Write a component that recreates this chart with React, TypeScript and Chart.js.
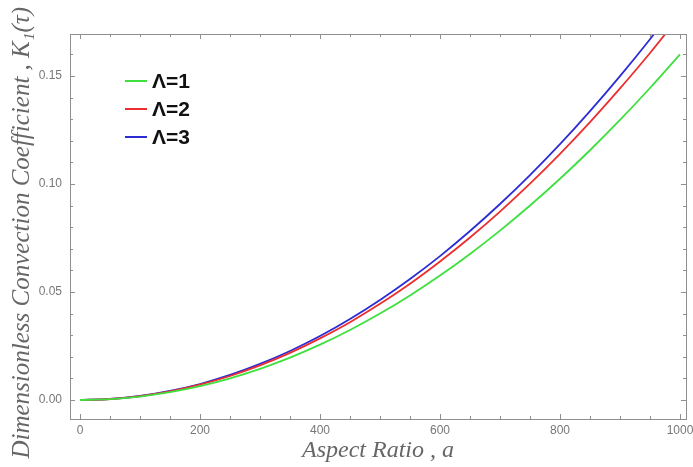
import { useEffect, useRef } from "react";
import { Chart, registerables } from "chart.js";

Chart.register(...registerables);

const aspectRatio = [0, 50, 100, 150, 200, 250, 300, 350, 400, 450, 500, 550, 600, 650, 700, 750, 800, 850, 900, 950, 1000];
const lambda1 = [0, 0.0004, 0.0016, 0.0036, 0.0064, 0.01, 0.0144, 0.0196, 0.0256, 0.0324, 0.04, 0.0484, 0.0576, 0.0676, 0.0784, 0.09, 0.1024, 0.1156, 0.1296, 0.1444, 0.16];
const lambda2 = [0, 0.00045, 0.0018, 0.004, 0.0071, 0.0111, 0.016, 0.0218, 0.0285, 0.036, 0.0445, 0.0538, 0.0641, 0.0752, 0.0872, 0.1001, 0.1139, 0.1286, 0.1442, 0.1606, 0.178];
const lambda3 = [0, 0.00046, 0.00185, 0.0042, 0.0074, 0.0116, 0.0167, 0.0227, 0.0296, 0.0375, 0.0463, 0.056, 0.0666, 0.0782, 0.0907, 0.1041, 0.1184, 0.1337, 0.1499, 0.167, 0.185];
const seriesLabels = ["Λ=1", "Λ=2", "Λ=3"];
const seriesColors = ["#3ee03e", "#ec2e2e", "#2c2cd6"];
const xTickValues = [0, 200, 400, 600, 800, 1000];
const yTickValues = [0, 0.05, 0.1, 0.15];
const xTitle = "Aspect Ratio , a";
const yTitle = "Dimensionless Convection Coefficient , K\u2081(\u03c4)  ";

const frameColor = "#8f8f8f";

const framePlugin = {
  id: "frameTicksLegend",
  afterDraw(chart: any) {
    const { ctx, chartArea } = chart;
    const { left, right, top, bottom } = chartArea;
    const xs = chart.scales.x;
    const ys = chart.scales.y;
    ctx.save();
    ctx.strokeStyle = frameColor;
    ctx.lineWidth = 1;
    ctx.strokeRect(Math.round(left) + 0.5, Math.round(top) + 0.5, Math.round(right - left), Math.round(bottom - top));
    for (let v = 0; v <= 1000; v += 50) {
      const px = Math.round(xs.getPixelForValue(v)) + 0.5;
      const len = v % 200 === 0 ? 5 : 3;
      ctx.beginPath();
      ctx.moveTo(px, bottom);
      ctx.lineTo(px, bottom - len);
      ctx.moveTo(px, top);
      ctx.lineTo(px, top + len);
      ctx.stroke();
    }
    for (let i = 0; i <= 17; i++) {
      const v = i * 0.01;
      const py = Math.round(ys.getPixelForValue(v)) + 0.5;
      if (py < top || py > bottom) continue;
      const len = i % 5 === 0 ? 5 : 3;
      ctx.beginPath();
      ctx.moveTo(left, py);
      ctx.lineTo(left + len, py);
      ctx.moveTo(right, py);
      ctx.lineTo(right - len, py);
      ctx.stroke();
    }
    const lx = 125;
    const ly = 81;
    const gap = 28;
    chart.data.datasets.forEach((ds: any, i: number) => {
      const y = ly + i * gap;
      ctx.strokeStyle = ds.borderColor;
      ctx.lineWidth = 2;
      ctx.beginPath();
      ctx.moveTo(lx, y);
      ctx.lineTo(lx + 22, y);
      ctx.stroke();
      ctx.fillStyle = "#111";
      ctx.font = "bold 21px 'Liberation Sans', Arial, sans-serif";
      ctx.textBaseline = "middle";
      ctx.textAlign = "left";
      ctx.fillText(ds.label, lx + 27, y + 1);
    });
    ctx.restore();
  },
};

export default function App() {
  const ref = useRef<HTMLCanvasElement | null>(null);
  useEffect(() => {
    document.body.style.margin = "0";
    const canvas = ref.current!;
    const datasets = [lambda1, lambda2, lambda3].map((d, i) => ({
      label: seriesLabels[i],
      data: aspectRatio.map((x, j) => ({ x, y: d[j] })),
      borderColor: seriesColors[i],
      backgroundColor: seriesColors[i],
      borderWidth: 1.8,
      pointRadius: 0,
      cubicInterpolationMode: "monotone" as const,
      fill: false,
    }));
    const chart = new Chart(canvas, {
      type: "line",
      data: { datasets },
      options: {
        animation: false,
        responsive: false,
        maintainAspectRatio: false,
        layout: { padding: { top: 34, right: 7, left: 0, bottom: 0 } },
        plugins: { legend: { display: false }, tooltip: { enabled: false } },
        scales: {
          x: {
            type: "linear",
            min: -16.7,
            max: 1010,
            afterBuildTicks: (s: any) => {
              s.ticks = xTickValues.map((value) => ({ value }));
            },
            afterFit: (s: any) => {
              s.height = 48;
              s.paddingRight = 0;
              s.paddingLeft = 0;
            },
            grid: { display: false, drawTicks: false },
            border: { display: false },
            ticks: {
              padding: 4,
              color: "#777",
              font: { family: "'Liberation Sans', Arial, sans-serif", size: 12 },
              callback: (v: any) => String(v),
              maxRotation: 0,
            },
            title: {
              display: true,
              text: xTitle,
              color: "#666",
              font: { family: "'Liberation Serif', 'DejaVu Serif', serif", size: 24, style: "italic", lineHeight: 1.2 },
              padding: { top: 0, bottom: 2 },
            },
          },
          y: {
            type: "linear",
            min: -0.0088,
            max: 0.1694,
            afterBuildTicks: (s: any) => {
              s.ticks = yTickValues.map((value) => ({ value }));
            },
            afterFit: (s: any) => {
              s.width = 70;
            },
            grid: { display: false, drawTicks: false },
            border: { display: false },
            ticks: {
              padding: 8,
              color: "#777",
              font: { family: "'Liberation Sans', Arial, sans-serif", size: 12 },
              callback: (v: any) => Number(v).toFixed(2),
            },
            title: {
              display: true,
              text: yTitle,
              color: "#666",
              font: { family: "'Liberation Serif', 'DejaVu Serif', serif", size: 25, style: "italic", lineHeight: 1.2 },
              padding: { top: 7, bottom: 0 },
            },
          },
        },
      },
      plugins: [framePlugin],
    });
    return () => chart.destroy();
  }, []);
  return <canvas ref={ref} width={693} height={467} style={{ display: "block" }} />;
}
